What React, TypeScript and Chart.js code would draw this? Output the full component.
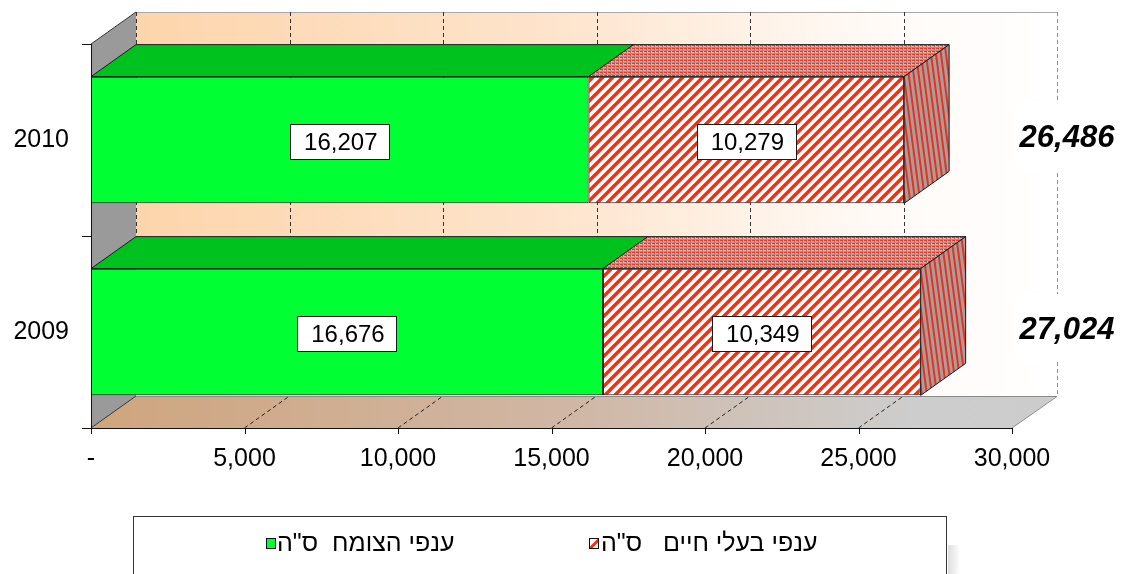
import React, { useEffect, useRef } from 'react';
import { Chart, registerables } from 'chart.js';

Chart.register(...registerables);

// ---------- data ----------
const years = ['2010', '2009'];
const plantValues = [16207, 16676];
const animalValues = [10279, 10349];
const totalValues = [26486, 27024];
const xTickValues = [0, 5000, 10000, 15000, 20000, 25000, 30000];
const legendLabels = ['ענפי הצומח  ס"ה', 'ענפי בעלי חיים   ס"ה'];

// ---------- style ----------
const FONT = '"Liberation Sans", Arial, sans-serif';
const DX = 45;
const DY = -32;
const GREEN = '#00FF33';
const GREEN_TOP = '#00C21F';
const RED = '#FF2A0A';

const fmt = (v: number) => (v === 0 ? '-' : v.toLocaleString('en-US'));

function makeHatch(): CanvasPattern | string {
  const c = document.createElement('canvas');
  const s = 10;
  c.width = s;
  c.height = s;
  const g = c.getContext('2d')!;
  g.fillStyle = '#FFFFFF';
  g.fillRect(0, 0, s, s);
  g.strokeStyle = RED;
  g.lineWidth = 3.4;
  g.beginPath();
  g.moveTo(0, s);
  g.lineTo(s, 0);
  g.moveTo(-s / 2, s / 2);
  g.lineTo(s / 2, -s / 2);
  g.moveTo(s / 2, s * 1.5);
  g.lineTo(s * 1.5, s / 2);
  g.stroke();
  return g.createPattern(c, 'repeat') || RED;
}

function makeTopPattern(): CanvasPattern | string {
  const c = document.createElement('canvas');
  c.width = 4;
  c.height = 3;
  const g = c.getContext('2d')!;
  g.fillStyle = '#D4B8B6';
  g.fillRect(0, 0, 4, 3);
  g.fillStyle = '#EE3422';
  g.fillRect(0, 0, 3, 1);
  g.fillStyle = '#B08E8C';
  g.fillRect(0, 2, 4, 1);
  g.fillStyle = '#E06050';
  g.fillRect(2, 1, 1, 1);
  return g.createPattern(c, 'repeat') || '#C88';
}

function poly(ctx: CanvasRenderingContext2D, pts: number[][]) {
  ctx.beginPath();
  ctx.moveTo(pts[0][0], pts[0][1]);
  for (let i = 1; i < pts.length; i++) ctx.lineTo(pts[i][0], pts[i][1]);
  ctx.closePath();
}

const threeD = {
  id: 'threeD',
  beforeDatasetsDraw(chart: any) {
    const ctx: CanvasRenderingContext2D = chart.ctx;
    const xs = chart.scales.x;
    const ys = chart.scales.y;
    const L = xs.left;
    const R = xs.right;
    const T = ys.top;
    const B = ys.bottom;
    ctx.save();
    // back wall
    const g = ctx.createLinearGradient(L + DX, 0, R + DX, 0);
    g.addColorStop(0, '#FDD5AC');
    g.addColorStop(0.45, '#FEE4CC');
    g.addColorStop(0.8, '#FFFAF6');
    g.addColorStop(1, '#FFFFFF');
    ctx.fillStyle = g;
    ctx.fillRect(L + DX, T + DY, R - L, B - T);
    ctx.strokeStyle = '#A8A8A8';
    ctx.lineWidth = 1;
    ctx.beginPath();
    ctx.moveTo(L + DX, T + DY + 0.5);
    ctx.lineTo(R + DX, T + DY + 0.5);
    ctx.stroke();
    // back wall grid
    ctx.setLineDash([4, 3]);
    xTickValues.forEach((v) => {
      const x = Math.round(xs.getPixelForValue(v) + DX) + 0.5;
      ctx.strokeStyle = v === xTickValues[xTickValues.length - 1] ? '#909090' : '#333333';
      ctx.beginPath();
      ctx.moveTo(x, T + DY);
      ctx.lineTo(x, B + DY);
      ctx.stroke();
    });
    ctx.setLineDash([]);
    // floor
    const fg = ctx.createLinearGradient(L, 0, R + DX, 0);
    fg.addColorStop(0, '#CFA57E');
    fg.addColorStop(0.5, '#D0B7A5');
    fg.addColorStop(0.85, '#CDCDCD');
    fg.addColorStop(1, '#CCCCCC');
    poly(ctx, [[L, B], [L + DX, B + DY], [R + DX, B + DY], [R, B]]);
    ctx.fillStyle = fg;
    ctx.fill();
    ctx.strokeStyle = '#8A8A8A';
    ctx.beginPath();
    ctx.moveTo(L + DX, B + DY + 0.5);
    ctx.lineTo(R + DX, B + DY + 0.5);
    ctx.lineTo(R, B);
    ctx.stroke();
    // floor grid
    ctx.setLineDash([4, 3]);
    ctx.strokeStyle = '#222222';
    xTickValues.forEach((v, i) => {
      if (i === 0 || i === xTickValues.length - 1) return;
      const x = xs.getPixelForValue(v);
      ctx.beginPath();
      ctx.moveTo(x, B);
      ctx.lineTo(x + DX, B + DY);
      ctx.stroke();
    });
    ctx.setLineDash([]);
    // side wall
    poly(ctx, [[L, T], [L + DX, T + DY], [L + DX, B + DY], [L, B]]);
    ctx.fillStyle = '#9A9A9A';
    ctx.fill();
    ctx.strokeStyle = '#333333';
    ctx.beginPath();
    ctx.moveTo(L, T);
    ctx.lineTo(L + DX, T + DY);
    ctx.moveTo(L, B);
    ctx.lineTo(L + DX, B + DY);
    ctx.stroke();
    ctx.restore();
  },
  afterDatasetsDraw(chart: any) {
    const ctx: CanvasRenderingContext2D = chart.ctx;
    const xs = chart.scales.x;
    const ys = chart.scales.y;
    const L = xs.left;
    const R = xs.right;
    const T = ys.top;
    const B = ys.bottom;
    const topPat = makeTopPattern();
    ctx.save();
    const nData = chart.data.labels.length;
    const nSets = chart.data.datasets.length;
    for (let j = 0; j < nData; j++) {
      for (let i = 0; i < nSets; i++) {
        const el = chart.getDatasetMeta(i).data[j];
        const p = el.getProps(['x', 'y', 'base', 'height'], true);
        const top = p.y - p.height / 2;
        const bot = p.y + p.height / 2;
        // top face
        poly(ctx, [[p.base, top], [p.base + DX, top + DY], [p.x + DX, top + DY], [p.x, top]]);
        ctx.fillStyle = i === 0 ? GREEN_TOP : topPat;
        ctx.fill();
        ctx.strokeStyle = '#1A1A1A';
        ctx.lineWidth = 1;
        ctx.stroke();
        if (i === nSets - 1) {
          // right face
          poly(ctx, [[p.x, top], [p.x + DX, top + DY], [p.x + DX, bot + DY], [p.x, bot]]);
          ctx.save();
          ctx.clip();
          ctx.fillStyle = '#A89E9E';
          ctx.fillRect(p.x - 2, top + DY - 2, DX + 4, bot - top - DY + 4);
          ctx.strokeStyle = '#E8321E';
          ctx.lineWidth = 2;
          ctx.beginPath();
          for (let k = -60; k < 80; k += 5) {
            ctx.moveTo(p.x + k, top + DY - 5);
            ctx.lineTo(p.x + k + 22, bot + 5);
          }
          ctx.stroke();
          ctx.restore();
          poly(ctx, [[p.x, top], [p.x + DX, top + DY], [p.x + DX, bot + DY], [p.x, bot]]);
          ctx.strokeStyle = '#1A1A1A';
          ctx.stroke();
        }
      }
    }
    // axes
    ctx.strokeStyle = '#111111';
    ctx.lineWidth = 1;
    ctx.beginPath();
    ctx.moveTo(L + 0.5, T);
    ctx.lineTo(L + 0.5, B);
    ctx.moveTo(L, B + 0.5);
    ctx.lineTo(R, B + 0.5);
    xTickValues.forEach((v) => {
      const x = Math.round(xs.getPixelForValue(v)) + 0.5;
      ctx.moveTo(x, B);
      ctx.lineTo(x, B + 6);
    });
    const catEdges = [T, (T + B) / 2, B];
    catEdges.forEach((y) => {
      ctx.moveTo(L - 9, Math.round(y) + 0.5);
      ctx.lineTo(L, Math.round(y) + 0.5);
    });
    ctx.stroke();

    // data labels
    ctx.font = `24px ${FONT}`;
    ctx.textAlign = 'center';
    ctx.textBaseline = 'alphabetic';
    for (let j = 0; j < nData; j++) {
      for (let i = 0; i < nSets; i++) {
        const el = chart.getDatasetMeta(i).data[j];
        const p = el.getProps(['x', 'y', 'base', 'height'], true);
        const v = chart.data.datasets[i].data[j] as number;
        const txt = fmt(v);
        const cx = (p.x + p.base) / 2;
        const cy = p.y + 1;
        const tw = ctx.measureText(txt).width;
        const bw = Math.round(tw + 26);
        const bh = 35;
        const bx = Math.round(cx - bw / 2) + 0.5;
        const by = Math.round(cy - bh / 2) + 0.5;
        ctx.fillStyle = '#FFFFFF';
        ctx.fillRect(bx, by, bw, bh);
        ctx.strokeStyle = '#1A1A1A';
        ctx.strokeRect(bx, by, bw, bh);
        ctx.fillStyle = '#000000';
        ctx.fillText(txt, cx + 1, cy + 9);
      }
    }
    // totals (white label background hides the back-wall edge line)
    ctx.font = `italic bold 31px ${FONT}`;
    for (let j = 0; j < nData; j++) {
      const y = ys.getPixelForValue(j);
      const cx = R + 55;
      ctx.fillStyle = '#FFFFFF';
      ctx.fillRect(cx - 52, y - 38, 104, 68);
      ctx.fillStyle = '#000000';
      ctx.fillText(fmt(totalValues[j]), cx, y + 7);
    }
    ctx.restore();
  },
  afterDraw(chart: any) {
    const ctx: CanvasRenderingContext2D = chart.ctx;
    ctx.save();
    // legend box shadow
    const sg = ctx.createLinearGradient(947, 0, 960, 0);
    sg.addColorStop(0, 'rgba(150,150,150,0.35)');
    sg.addColorStop(1, 'rgba(150,150,150,0)');
    ctx.fillStyle = sg;
    ctx.fillRect(948, 545, 12, 35);
    // legend box
    ctx.fillStyle = '#FFFFFF';
    ctx.fillRect(133.5, 516.5, 813, 80);
    ctx.strokeStyle = '#333333';
    ctx.lineWidth = 1;
    ctx.strokeRect(133.5, 516.5, 813, 80);
    // items
    const items = [
      { sq: 266, textLeft: 277 },
      { sq: 589, textLeft: 601 },
    ];
    items.forEach((it, i) => {
      const sy = 538.5;
      ctx.save();
      ctx.beginPath();
      ctx.rect(it.sq + 0.5, sy, 9, 10);
      ctx.clip();
      if (i === 0) {
        ctx.fillStyle = GREEN;
        ctx.fillRect(it.sq, sy - 1, 11, 12);
      } else {
        ctx.fillStyle = '#FFFFFF';
        ctx.fillRect(it.sq, sy - 1, 11, 12);
        ctx.strokeStyle = RED;
        ctx.lineWidth = 3;
        ctx.beginPath();
        ctx.moveTo(it.sq, sy + 11);
        ctx.lineTo(it.sq + 11, sy);
        ctx.stroke();
      }
      ctx.restore();
      ctx.strokeStyle = '#111111';
      ctx.strokeRect(it.sq + 0.5, sy, 9, 10);
      ctx.fillStyle = '#000000';
      ctx.font = `25px ${FONT}`;
      ctx.textAlign = 'left';
      ctx.textBaseline = 'alphabetic';
      ctx.fillText(legendLabels[i], it.textLeft, 551);
    });
    ctx.restore();
  },
};

export default function App() {
  const ref = useRef<HTMLCanvasElement>(null);
  useEffect(() => {
    const canvas = ref.current;
    if (!canvas) return;
    const hatch = makeHatch();
    const chart = new Chart(canvas, {
      type: 'bar',
      data: {
        labels: years,
        datasets: [
          {
            label: legendLabels[0],
            data: plantValues,
            backgroundColor: GREEN,
            borderColor: '#1A1A1A',
            borderWidth: 1,
            borderSkipped: false,
            barPercentage: 0.66,
            categoryPercentage: 1,
          },
          {
            label: legendLabels[1],
            data: animalValues,
            backgroundColor: hatch as any,
            borderColor: '#1A1A1A',
            borderWidth: 1,
            borderSkipped: false,
            barPercentage: 0.66,
            categoryPercentage: 1,
          },
        ],
      },
      options: {
        responsive: false,
        animation: false,
        devicePixelRatio: 1,
        indexAxis: 'y',
        layout: { padding: { left: 0, top: 44, right: 111, bottom: 0 } },
        scales: {
          x: {
            stacked: true,
            min: 0,
            max: 30000,
            afterBuildTicks: (s: any) => {
              s.ticks = xTickValues.map((v) => ({ value: v }));
            },
            afterFit: (s: any) => {
              s.height = 146;
            },
            ticks: {
              autoSkip: false,
              maxRotation: 0,
              padding: 16,
              color: '#000000',
              font: { family: FONT, size: 25 },
              callback: (v: any) => fmt(Number(v)),
            },
            grid: { display: false, drawTicks: false },
            border: { display: false },
          },
          y: {
            stacked: true,
            afterFit: (s: any) => {
              s.width = 91;
            },
            ticks: {
              padding: 22,
              color: '#000000',
              font: { family: FONT, size: 25 },
            },
            grid: { display: false, drawTicks: false },
            border: { display: false },
          },
        },
        plugins: {
          legend: { display: false },
          tooltip: { enabled: false },
        },
      },
      plugins: [threeD],
    });
    return () => chart.destroy();
  }, []);
  return (
    <div style={{ position: 'absolute', left: 0, top: 0, width: 1123, height: 574, background: '#FFFFFF' }}>
      <canvas ref={ref} width={1123} height={574} style={{ display: 'block' }} />
    </div>
  );
}
